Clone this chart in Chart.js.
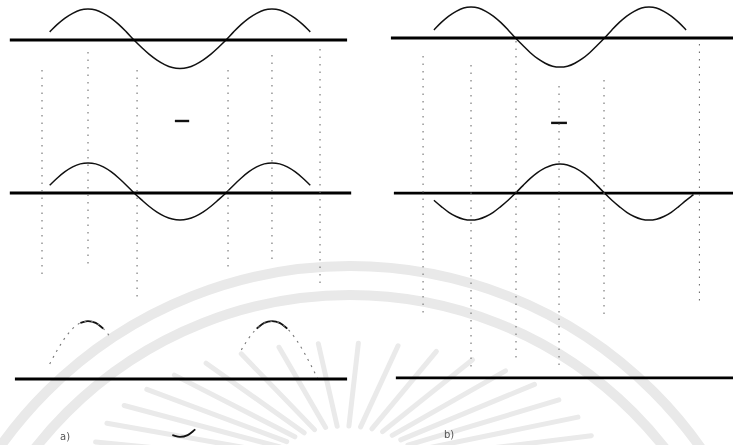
<!DOCTYPE html>
<html>
<head>
<meta charset="utf-8">
<script src="https://cdn.jsdelivr.net/npm/chart.js@4.4.1/dist/chart.umd.min.js"></script>
<style>
  body { margin: 0; background: #fff; }
  #wrap { position: relative; width: 733px; height: 445px; overflow: hidden; background: #fff; }
  #wrap canvas, #wrap svg { position: absolute; top: 0; }
  .tag { position: absolute; font: 10px "DejaVu Sans", sans-serif; color: #555; }
</style>
</head>
<body>
<div id="wrap">
  <svg id="mark" width="733" height="445" style="left:0"></svg>
  <canvas id="chartA" width="366" height="445" style="left:0"></canvas>
  <canvas id="chartB" width="367" height="445" style="left:366px"></canvas>
  <span class="tag" style="left:60px;top:431px">a)</span>
  <span class="tag" style="left:444px;top:429px">b)</span>
</div>
<script>
// phase in degrees, one sample every 15 deg
const phaseDeg = [0, 15, 30, 45, 60, 75, 90, 105, 120, 135, 150, 165, 180, 195, 210, 225, 240, 255, 270,
                  285, 300, 315, 330, 345, 360, 375, 390, 405, 420, 435, 450, 465, 480, 495, 510, 525, 540];

// a) two waves in phase, and their sum
const aTop = [null, .27, .52, .73, .89, 1.0, 1.03, 1.0, .89, .73, .52, .27, 0, -.25, -.48, -.67, -.82, -.92, -.95,
              -.92, -.82, -.67, -.48, -.25, 0, .27, .52, .73, .89, 1.0, 1.03, 1.0, .89, .73, .52, .27, null];
const aMid = [null, .26, .5, .71, .87, .97, 1.0, .97, .87, .71, .5, .26, 0, -.23, -.45, -.64, -.78, -.87, -.9,
              -.87, -.78, -.64, -.45, -.23, 0, .26, .5, .71, .87, .97, 1.0, .97, .87, .71, .5, .26, null];
// sum: only parts of it came out in print
const aSumFaint = [null, .5, .97, 1.37, 1.68, 1.87, 1.93, 1.87, 1.68, 1.37, null, null, null, null, null, null, null, null, null,
                   null, null, null, null, null, null, null, .97, 1.37, 1.68, 1.87, 1.93, 1.87, 1.68, 1.37, .97, .5, 0];
const aSumSolid = [null, null, null, null, null, 1.87, 1.93, 1.87, 1.68, null, null, null, null, null, null, null, null, -1.87, -1.93,
                   -1.87, -1.68, null, null, null, null, null, null, null, 1.68, 1.87, 1.93, 1.87, 1.68, null, null, null, null];

// b) two waves in opposite phase, sum is zero
const bTop = [null, .27, .52, .73, .89, 1.0, 1.03, 1.0, .89, .73, .52, .27, 0, -.25, -.49, -.69, -.84, -.94, -.97,
              -.94, -.84, -.69, -.49, -.25, 0, .27, .52, .73, .89, 1.0, 1.03, 1.0, .89, .73, .52, .27, null];
const bMid = [null, -.24, -.45, -.64, -.78, -.87, -.9, -.87, -.78, -.64, -.45, -.24, 0, .25, .49, .69, .84, .94, .97,
              .94, .84, .69, .49, .25, 0, -.24, -.45, -.64, -.78, -.87, -.9, -.87, -.78, -.64, -.45, -.24, -.05];

// zero lines, from / to (deg), one per row
const aAxisFrom = [-63, -63, -53];
const aAxisTo = [597, 605, 597];
const bAxisFrom = [-72, -66, -62];
const bAxisTo = [625, 625, 625];

// dotted guide lines: phase, top and bottom (in amplitude units)
const aGuidePhase = [0, 90, 186, 364, 450, 544];
const aGuideTop = [-1.0, -0.4, -1.0, -1.0, -0.5, -0.3];
const aGuideBottom = [-8, -7.6, -8.6, -7.7, -7.5, -8.2];
const bGuidePhase = [-7, 90, 181, 268, 359, 552];
const bGuideTop = [-0.6, -0.9, -0.1, -1.6, -1.4, -0.2];
const bGuideBottom = [-9.3, -11, -10.8, -10.9, -9.3, -8.8];

// short bar between the rows
const aBar = [260, 288];
const bBar = [252, 284];
const aBarLevel = -2.7;
const bBarLevel = -2.83;

// row baselines (layout)
const aRows = [0, -5.1, -11.3];
const bRows = [0, -5.17, -11.33];

function curve(values, base) {
    return phaseDeg.map((p, i) => ({ x: p, y: values[i] === null ? null : values[i] + base }));
}

function axisLine(from, to, base) {
    return [{ x: from, y: base }, { x: to, y: base }];
}

function guides(phase, top, bottom) {
    let pts = [];
    phase.forEach((p, i) => {
        pts.push({ x: p, y: top[i] }, { x: p, y: bottom[i] }, { x: p, y: null });
    });
    return pts;
}

function lineSet(data, opts) {
    return Object.assign({
        data: data,
        showLine: true,
        pointRadius: 0,
        borderColor: '#111',
        borderWidth: 1.5,
        tension: 0.35,
        spanGaps: false,
        fill: false
    }, opts);
}

function makeChart(canvas, datasets, xMin, xMax, yMin, yMax) {
    return new Chart(canvas.getContext('2d'), {
        type: 'scatter',
        data: { datasets: datasets },
        options: {
            responsive: false,
            animation: false,
            devicePixelRatio: 1,
            layout: { padding: 0 },
            plugins: { legend: { display: false }, tooltip: { enabled: false } },
            scales: {
                x: { type: 'linear', min: xMin, max: xMax, display: false },
                y: { type: 'linear', min: yMin, max: yMax, display: false }
            }
        }
    });
}

const guideStyle = { borderColor: '#707070', borderWidth: 1.1, borderDash: [1.5, 6], tension: 0 };
const axisStyle = { borderColor: '#000', borderWidth: 2.8, tension: 0 };

// panel a
let aSets = [
    lineSet(guides(aGuidePhase, aGuideTop, aGuideBottom), guideStyle),
    lineSet(axisLine(aAxisFrom[0], aAxisTo[0], aRows[0]), axisStyle),
    lineSet(axisLine(aAxisFrom[1], aAxisTo[1], aRows[1]), axisStyle),
    lineSet(axisLine(aAxisFrom[2], aAxisTo[2], aRows[2]), axisStyle),
    lineSet(curve(aTop, aRows[0])),
    lineSet(curve(aMid, aRows[1])),
    lineSet(curve(aSumFaint, aRows[2]), { borderColor: '#777', borderWidth: 1.1, borderDash: [2, 5] }),
    lineSet(curve(aSumSolid, aRows[2]), { borderWidth: 1.8 }),
    lineSet([{ x: aBar[0], y: aBarLevel }, { x: aBar[1], y: aBarLevel }], { borderWidth: 2.4, tension: 0 })
];
makeChart(document.getElementById('chartA'), aSets, -82.2, 634.0, -13.5, 1.333);

// panel b
let bSets = [
    lineSet(guides(bGuidePhase, bGuideTop, bGuideBottom), guideStyle),
    lineSet(axisLine(bAxisFrom[0], bAxisTo[0], bRows[0]), axisStyle),
    lineSet(axisLine(bAxisFrom[1], bAxisTo[1], bRows[1]), axisStyle),
    lineSet(axisLine(bAxisFrom[2], bAxisTo[2], bRows[2]), axisStyle),
    lineSet(curve(bTop, bRows[0])),
    lineSet(curve(bMid, bRows[1])),
    lineSet([{ x: bBar[0], y: bBarLevel }, { x: bBar[1], y: bBarLevel }], { borderWidth: 2.4, tension: 0 })
];
makeChart(document.getElementById('chartB'), bSets, -122.4, 619.9, -13.567, 1.267);

// faint library stamp behind the scan
const svg = document.getElementById('mark');
let marks = '<circle cx="350" cy="695" r="429" fill="none" stroke="#e9e9e9" stroke-width="10"/>' +
            '<circle cx="350" cy="695" r="400" fill="none" stroke="#e9e9e9" stroke-width="10"/>';
for (let a = 6; a < 180; a += 9) {
    const t = a * Math.PI / 180;
    const x1 = 345 + 75 * Math.cos(t), y1 = 468 - 42 * Math.sin(t);
    const x2 = 345 + 255 * Math.cos(t), y2 = 468 - 125 * Math.sin(t);
    marks += '<line x1="' + x1 + '" y1="' + y1 + '" x2="' + x2 + '" y2="' + y2 +
             '" stroke="#eaeaea" stroke-width="5" stroke-linecap="round"/>';
}
svg.innerHTML = marks;
</script>
</body>
</html>
